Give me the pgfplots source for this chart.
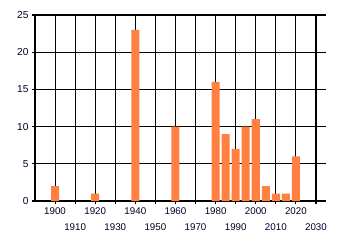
\documentclass[border=0pt]{standalone}
\usepackage{pgfplots}
\pgfplotsset{compat=1.18}
\usepackage{fontspec}
\setmainfont{Liberation Sans}
\definecolor{barc}{HTML}{FF8040}
\begin{document}
\begin{tikzpicture}[x=1bp,y=1bp]
\begin{axis}[
  name=ax,
  at={(35bp,44bp)},
  scale only axis,
  width=291bp, height=186bp,
  xmin=1890, xmax=2035, ymin=0, ymax=25,
  axis x line*=bottom, axis y line*=left,
  axis line style={black, line width=1.1bp, -},
  xtick={1900,1920,...,2020},
  extra x ticks={1910,1930,...,2030},
  extra x tick style={tick label style={yshift=-16bp}, grid=major},
  ytick={0,5,...,25},
  grid=major,
  major grid style={black, line width=1.1bp},
  tick align=outside,
  major tick length=3bp,
  tick style={black, line width=1.1bp},
  xticklabel style={font=\fontsize{9.8}{10}\selectfont, text=black!85!blue},
  yticklabel style={font=\fontsize{10.2}{11}\selectfont, text=black!85!blue},
  /pgf/number format/assume math mode=true,
  /pgf/number format/1000 sep={},
  xticklabel={\pgfmathprintnumber[1000 sep={},fixed]{\tick}},
  ybar, bar width=4, bar shift=0pt,
  clip=false,
]
\addplot[fill=barc, draw=none] coordinates {
(1900,2) (1920,1) (1940,23) (1960,10) (1980,16) (1985,9) (1990,7) (1995,10) (2000,11) (2005,2) (2010,1) (2015,1) (2020,6)};
\end{axis}
\pgfresetboundingbox
\path (0,0) rectangle (340bp,245bp);
\end{tikzpicture}
\end{document}
